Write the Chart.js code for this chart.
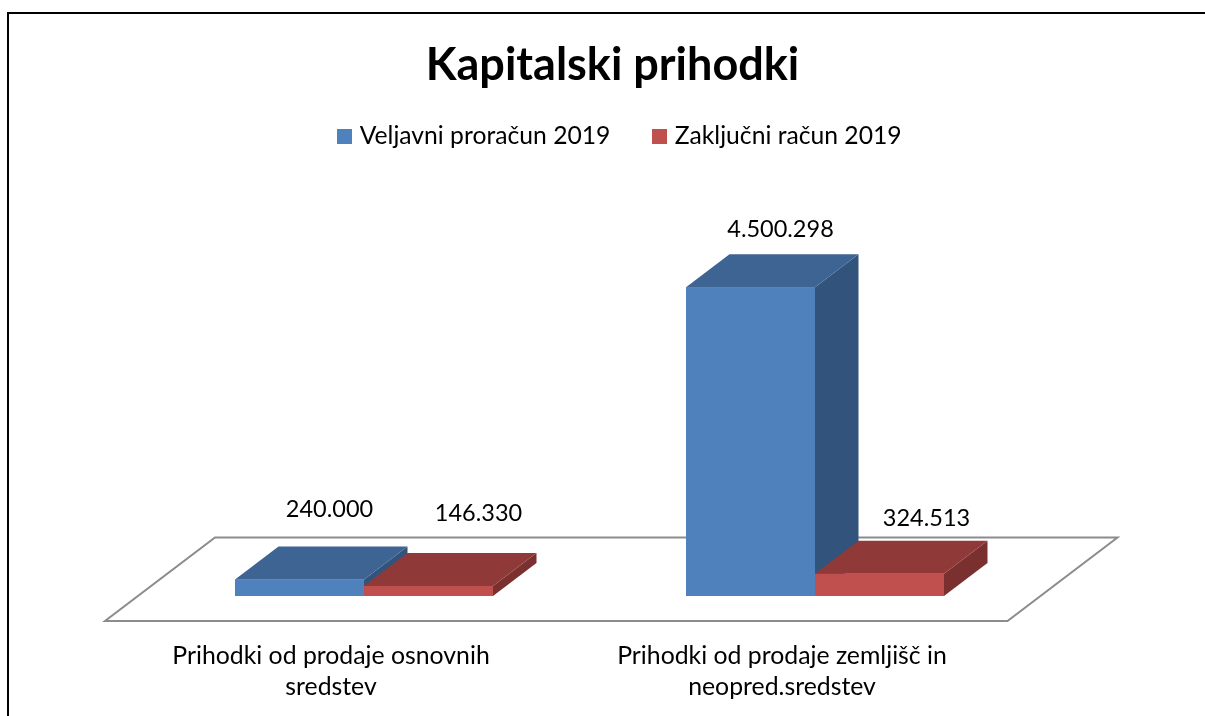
<!DOCTYPE html>
<html><head><meta charset="utf-8">
<style>html,body{margin:0;padding:0;background:#fff;overflow:hidden}#w{width:1205px;height:716px;position:relative}canvas{display:block}</style>
<script src="https://cdn.jsdelivr.net/npm/chart.js@4"></script></head>
<body><div id="w"><canvas id="c" width="1205" height="716"></canvas></div>
<script>
const categories=[["Prihodki od prodaje osnovnih","sredstev"],["Prihodki od prodaje zemljišč in","neopred.sredstev"]];
const seriesNames=["Veljavni proračun 2019","Zaključni račun 2019"];
const veljavni=[240000,4500298];
const zakljucni=[146330,324513];
const FONT='Lato, Carlito, sans-serif';
const DX=43.5,DY=33;
const faces=[{front:'#4f81bd',top:'#3e6493',side:'#32547c'},{front:'#c0504d',top:'#8f3a38',side:'#7a302e'}];
// label nudges per series / category, as placed in the picture
const labelShift=[[{x:30,y:-30},{x:30,y:-17}],[{x:50,y:-32},{x:47,y:-15}]];
const fmt=v=>String(v).replace(/\B(?=(\d{3})+$)/g,'.');
const swatch=col=>{const k=document.createElement('canvas');k.width=15;k.height=15;const g=k.getContext('2d');g.fillStyle=col;g.fillRect(0,0,15,15);return k;};
const swatches=faces.map(f=>swatch(f.front));
const frame={id:'frame',
 afterLayout(ch){[[ch.titleBlock,23,1],[ch.legend,32.5,-16]].forEach(([b,d,e])=>{b.left+=d;b.right+=d;b.top+=e;b.bottom+=e;});},
 beforeDraw(ch){const c=ch.ctx;c.save();c.strokeStyle='#000';c.lineWidth=2;c.beginPath();c.moveTo(8,716);c.lineTo(8,13);c.lineTo(1205,13);c.stroke();
 const y0=ch.scales.y.getPixelForValue(0);const a=ch.chartArea;
 c.strokeStyle='#8c8c8c';c.lineWidth=2;c.lineJoin='miter';c.beginPath();c.moveTo(a.left-33.5,y0+25);c.lineTo(a.right-33,y0+25);c.lineTo(a.right+77,y0-58.5);c.lineTo(a.left+76.5,y0-58.5);c.closePath();c.stroke();c.restore();}};
const bars3d={id:'bars3d',afterDatasetsDraw(ch){const c=ch.ctx;c.save();
 const order=[];ch.data.datasets.forEach((d,i)=>ch.getDatasetMeta(i).data.forEach((b,j)=>order.push({b,i,j})));
 order.sort((p,q)=>p.j-q.j||p.i-q.i);
 order.forEach(({b,i})=>{const l=b.x-b.width/2,r=b.x+b.width/2,t=b.y,bot=b.base,f=faces[i];
  c.fillStyle=f.side;c.beginPath();c.moveTo(r,t);c.lineTo(r+DX,t-DY);c.lineTo(r+DX,bot-DY);c.lineTo(r,bot);c.closePath();c.fill();
  c.fillStyle=f.top;c.beginPath();c.moveTo(l,t);c.lineTo(l+DX,t-DY);c.lineTo(r+DX,t-DY);c.lineTo(r,t);c.closePath();c.fill();
  c.fillStyle=f.front;c.fillRect(l,t,r-l,bot-t);});
 c.fillStyle='#000';c.font='23.5px '+FONT;c.textAlign='center';c.textBaseline='alphabetic';
 order.forEach(({b,i,j})=>{const v=ch.data.datasets[i].data[j],s=labelShift[i][j];c.fillText(fmt(v),b.x+s.x,b.y-DY+s.y);});
 c.restore();}};
new Chart(document.getElementById('c'),{type:'bar',
 data:{labels:categories,datasets:[
  {label:seriesNames[0],data:veljavni,backgroundColor:faces[0].front},
  {label:seriesNames[1],data:zakljucni,backgroundColor:faces[1].front}]},
 options:{responsive:false,animation:false,
  layout:{padding:{left:138.5,right:164.5,top:37,bottom:0}},
  datasets:{bar:{categoryPercentage:0.572,barPercentage:1}},
  plugins:{tooltip:{enabled:false},
   title:{display:true,text:'Kapitalski prihodki',color:'#000',font:{family:FONT,size:45,weight:'bold'},padding:{top:0,bottom:2}},
   legend:{position:'top',labels:{color:'#000',font:{family:FONT,size:24.7},usePointStyle:true,pointStyleWidth:5,boxHeight:15,padding:47,
     generateLabels(ch){return Chart.defaults.plugins.legend.labels.generateLabels(ch).map((it,i)=>({...it,pointStyle:swatches[i]}));}}}},
  scales:{
   x:{grid:{display:false},border:{display:false},afterFit(s){s.height=120;},ticks:{color:'#000',font:{family:FONT,size:24.8,lineHeight:1.25},padding:37,labelOffset:-33,maxRotation:0,autoSkip:false}},
   y:{display:false,min:0,max:6141000}}},
 plugins:[frame,bars3d]});
</script></body></html>
